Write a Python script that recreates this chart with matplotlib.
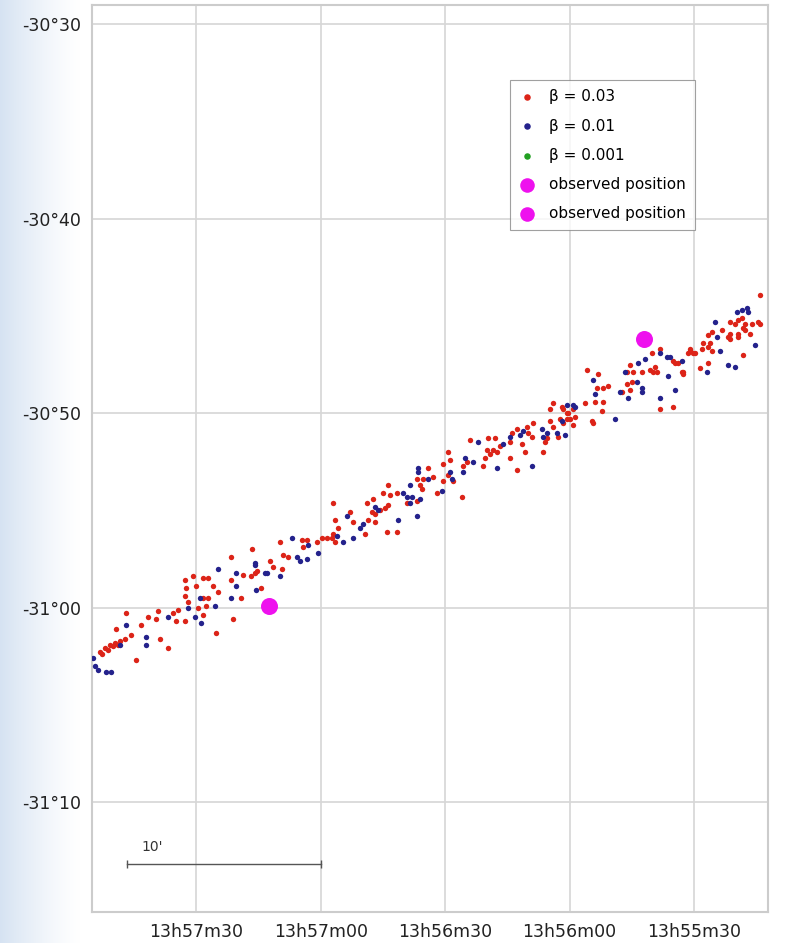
import numpy as np
import matplotlib
matplotlib.use('Agg')
import matplotlib.pyplot as plt

# RA in seconds of time after 13h55m00s, Dec in arcmin south of -30d00'
red_ra = [173.1, 171.9, 170.7, 169.5, 168.3, 167.1, 165.7, 172.7, 171.2, 170.0, 168.8, 164.5,
          156.7, 158.7, 169.3, 163.3, 161.6, 159.6, 166.9, 159.2, 155.5, 154.8, 154.3, 152.7,
          151.9, 149.5, 148.3, 147.6, 148.3, 152.7, 152.4, 152.7, 150.7, 150.0, 148.3, 147.1,
          145.9, 144.7, 147.1, 145.2, 141.1, 141.6, 141.6, 139.2, 138.7, 136.7, 135.8, 134.3,
          136.5, 135.3, 131.4, 132.2, 129.3, 129.8, 129.0, 127.8, 124.2, 124.5, 123.3, 120.8,
          119.6, 118.4, 117.2, 117.0, 116.5, 116.5, 115.8, 117.0, 112.9, 112.2, 109.3, 108.6,
          107.6, 106.9, 105.7, 104.5, 103.7, 108.8, 107.3, 104.9, 103.3, 101.6, 99.2, 96.7,
          104.0, 101.6, 106.9, 103.7, 96.0, 95.3,
          95.5, 96.7, 94.1, 92.9, 91.9, 90.5, 90.5, 89.3, 88.8, 89.3, 88.1, 85.7, 84.7, 85.9,
          84.0, 80.8, 80.4, 79.9, 79.2, 78.4, 77.5, 79.6, 78.0, 76.7, 74.3, 74.3, 72.7, 73.9,
          72.7, 71.4, 70.7, 70.2, 70.0, 69.0, 68.8, 66.4, 65.4, 65.9, 64.7, 64.0, 62.8, 62.3,
          61.6, 60.6, 59.9, 59.2, 59.2, 64.7, 64.0, 61.8,
          38.2, 40.1, 45.4, 46.1, 44.7, 42.5, 44.9, 46.1, 45.4, 47.3, 40.6, 39.9, 38.9, 39.4,
          35.1, 33.9, 34.6, 32.7, 38.2, 35.1, 31.0, 29.8, 55.8, 53.1, 53.4, 52.0, 50.7, 52.0,
          53.9, 56.3, 61.6, 60.4, 58.7, 60.6, 54.6, 54.3, 52.2,
          14.1, 21.3, 20.1, 19.4, 18.5, 17.7, 16.0, 14.6, 14.1, 23.3, 18.2, 17.7, 19.4, 16.5,
          21.3, 21.9, 25.7, 26.7, 21.3, 19.4, 18.2, 27.9, 28.1, 31.0, 30.3, 31.5, 26.7, 25.7,
          26.1, 26.7, 28.6, 32.9, 32.7]
red_dec = [62.3, 62.1, 61.9, 61.8, 61.7, 61.6, 61.4, 62.4, 62.2, 62.0, 61.9, 62.7,
           62.1, 61.6, 61.1, 60.9, 60.5, 60.6, 60.3, 60.2, 60.3, 60.7, 60.1, 60.7,
           59.7, 60.0, 60.4, 59.9, 59.5, 59.4, 59.0, 58.6, 58.4, 58.9, 58.5, 58.5,
           58.9, 59.2, 59.5, 61.3, 60.6, 57.4, 58.6, 59.5, 58.3, 58.4, 58.2, 59.0,
           57.0, 58.1, 57.9, 57.6, 58.0, 56.6, 57.3, 57.4, 56.9, 56.5, 56.5, 56.6,
           56.4, 56.4, 56.4, 56.2, 56.6, 55.5, 55.9, 54.6, 55.1, 55.6, 56.2, 55.5,
           55.1, 55.2, 55.0, 54.9, 54.7, 54.6, 54.4, 54.1, 54.2, 54.1, 54.6, 54.5,
           56.1, 56.1, 55.6, 53.7, 53.7, 53.4,
           53.9, 53.4, 52.8, 53.3, 54.1, 53.5, 52.6, 52.0, 52.4, 53.2, 53.5, 52.7, 52.5, 54.3,
           51.4, 52.7, 52.3, 51.9, 52.1, 51.9, 52.0, 51.3, 51.3, 51.7, 51.5, 52.3, 52.9, 51.0,
           50.8, 51.6, 52.0, 50.7, 51.0, 51.2, 50.5, 52.0, 51.3, 51.5, 50.4, 50.7, 51.2, 50.3,
           50.5, 50.0, 50.3, 49.8, 50.6, 49.8, 49.5, 49.7,
           46.7, 46.9, 47.5, 47.9, 47.9, 47.9, 48.4, 48.5, 48.8, 48.9, 47.8, 47.9, 47.9, 47.6,
           47.3, 47.4, 47.4, 47.9, 49.8, 49.7, 46.8, 46.9, 47.8, 48.0, 48.7, 48.7, 48.6, 49.4,
           49.4, 49.5, 49.8, 50.0, 50.2, 50.3, 50.4, 50.5, 49.9,
           43.9, 45.3, 45.4, 45.2, 45.1, 45.4, 45.4, 45.3, 45.4, 45.7, 45.6, 45.7, 45.9, 45.9,
           45.9, 46.1, 45.8, 46.0, 46.2, 46.1, 47.0, 46.4, 46.7, 46.7, 46.9, 46.9, 46.6, 46.8,
           46.4, 47.4, 47.7, 47.9, 48.0]

blue_ra = [174.8, 174.3, 173.6, 171.7, 170.5, 162.0, 168.3, 166.9, 162.0, 156.7, 151.9, 150.2,
           148.8, 149.0, 145.4, 144.7, 141.6, 140.4, 140.4, 135.8, 135.5, 133.4, 135.8, 132.9,
           129.8, 126.9, 125.7, 124.9, 123.3, 123.0, 120.6, 116.0, 114.6, 112.2, 113.6, 110.5,
           109.8, 106.1, 106.9, 100.1, 99.2, 98.4, 96.7, 101.3, 98.4, 96.5, 98.0, 96.0, 96.5,
           94.1, 90.7, 88.8, 88.3, 85.7, 85.2, 83.3, 82.1, 77.5, 76.0, 74.3, 71.9, 71.2, 69.0,
           66.6, 66.4, 65.4, 63.0, 61.1, 59.2, 60.6, 41.8, 43.5, 46.6, 43.7, 47.8, 45.9, 42.5,
           42.5, 38.2, 36.5, 35.8, 36.3, 38.2, 34.6, 54.3, 53.9, 58.7, 61.8, 49.0,
           19.7, 18.5, 17.2, 17.0, 24.9, 24.5, 23.8, 15.3, 32.9, 26.9, 21.9, 20.1]
blue_dec = [62.6, 63.0, 63.2, 63.3, 63.3, 61.9, 61.9, 60.9, 61.5, 60.5, 60.0, 60.5,
            60.8, 59.5, 59.9, 58.0, 59.5, 58.9, 58.2, 57.7, 59.1, 58.2, 57.8, 58.2,
            58.4, 56.4, 57.4, 57.6, 57.5, 56.8, 57.2, 56.3, 56.6, 56.4, 55.3, 55.9,
            55.7, 55.0, 54.8, 54.1, 54.3, 54.6, 55.3, 55.5, 53.7, 53.0, 54.3, 54.4, 52.8,
            53.4, 54.0, 53.0, 53.4, 53.0, 52.3, 52.5, 51.5, 52.8, 51.6, 51.2, 51.1, 50.9, 52.7,
            50.8, 51.2, 51.0, 51.0, 51.1, 49.6, 49.6, 47.2, 47.4, 47.9, 48.4, 48.9, 49.2, 48.7,
            48.9, 46.9, 47.1, 47.1, 48.1, 49.2, 48.8, 48.3, 49.0, 49.7, 50.4, 50.3,
            44.8, 44.7, 44.6, 44.8, 45.3, 46.1, 46.8, 46.5, 47.3, 47.9, 47.5, 47.6]

green_ra = []
green_dec = []

obs_ra = [42.2, 132.4]
obs_dec = [46.2, 59.9]

ra_ticks = [150, 120, 90, 60, 30]
ra_labels = ['13h57m30', '13h57m00', '13h56m30', '13h56m00', '13h55m30']
dec_ticks = [30, 40, 50, 60, 70]
dec_labels = ['-30°30', '-30°40', '-30°50', '-31°00', '-31°10']

fig = plt.figure(figsize=(7.95, 9.43), dpi=100)

# light blue page background on the left
bg = fig.add_axes([0, 0, 1, 1], zorder=-5)
grad = np.ones((10, 795, 3))
xs = np.arange(795)
fade = np.clip(1 - xs / 80.0, 0, 1) ** 1.3
base = np.array([0.84, 0.89, 0.95])
for c in range(3):
    grad[:, :, c] = 1 - (1 - base[c]) * fade
bg.imshow(grad, aspect='auto', extent=[0, 1, 0, 1])
bg.axis('off')

ax = fig.add_axes([92 / 795, 1 - 912 / 943, 676 / 795, 907 / 943])
ax.set_facecolor('white')

ax.scatter(red_ra, red_dec, s=15, color='#dc2418', linewidths=0, label='β = 0.03', zorder=3)
ax.scatter(blue_ra, blue_dec, s=15, color='#24228c', linewidths=0, label='β = 0.01', zorder=3)
ax.scatter(green_ra, green_dec, s=15, color='#22a022', linewidths=0, label='β = 0.001', zorder=3)
ax.scatter(obs_ra[:1], obs_dec[:1], s=150, color='#ee11ee', linewidths=0,
           label='observed position', zorder=4)
ax.scatter(obs_ra[1:], obs_dec[1:], s=150, color='#ee11ee', linewidths=0,
           label='observed position', zorder=4)

ax.set_xlim(175.1, 12.2)
ax.set_ylim(75.66, 29.0)
ax.set_xticks(ra_ticks)
ax.set_xticklabels(ra_labels)
ax.set_yticks(dec_ticks)
ax.set_yticklabels(dec_labels)
ax.tick_params(length=0, labelsize=12.5, labelcolor='#222222', pad=8)
ax.grid(True, color='#d6d6d6', linewidth=1.2)
ax.set_axisbelow(True)
for s in ax.spines.values():
    s.set_color('#cccccc')
    s.set_linewidth(1.5)

# 10 arcmin scale bar
ax.plot([166.6, 120.0], [73.2, 73.2], color='#555555', lw=1, marker='|', markersize=6)
ax.text(163.2, 72.5, "10'", fontsize=10, color='#333333')

leg = ax.legend(loc='upper left', bbox_to_anchor=(0.618, 0.917), fontsize=11,
                frameon=True, fancybox=False, handlelength=1.0, handletextpad=1.0,
                labelspacing=0.92, borderpad=0.6, borderaxespad=0, scatterpoints=1)
leg.get_frame().set_edgecolor('#888888')
leg.get_frame().set_linewidth(0.8)
for h in leg.legend_handles[:3]:
    h.set_sizes([22])
for h in leg.legend_handles[3:]:
    h.set_sizes([110])

fig.savefig('out.png', dpi=100)
